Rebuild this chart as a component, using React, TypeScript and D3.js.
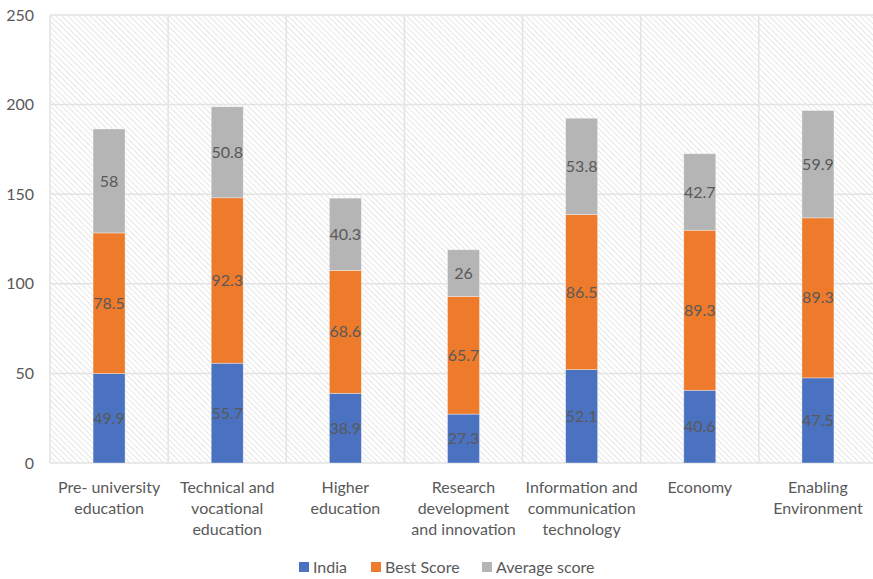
import React from "react";
import * as d3 from "d3";

const categories = [
  ["Pre- university", "education"],
  ["Technical and", "vocational", "education"],
  ["Higher", "education"],
  ["Research", "development", "and innovation"],
  ["Information and", "communication", "technology"],
  ["Economy"],
  ["Enabling", "Environment"],
];
const india = [49.9, 55.7, 38.9, 27.3, 52.1, 40.6, 47.5];
const bestScore = [78.5, 92.3, 68.6, 65.7, 86.5, 89.3, 89.3];
const averageScore = [58, 50.8, 40.3, 26, 53.8, 42.7, 59.9];
const seriesNames = ["India", "Best Score", "Average score"];
const colors = ["#4A72C0", "#EE7B2C", "#B5B5B5"];
const yTicks = [0, 50, 100, 150, 200, 250];

export default function App() {
  const W = 873, H = 579;
  const left = 50, right = 877, top = 15, bottom = 463;
  const x = d3.scaleBand<number>().domain(d3.range(categories.length)).range([left, right]).paddingInner(0).paddingOuter(0);
  const y = d3.scaleLinear().domain([0, 250]).range([bottom, top]);
  const bw = 32;
  const series = [india, bestScore, averageScore];
  const font = "Lato, 'Open Sans', sans-serif";
  const txt = "#595959";
  const legendX = [299, 371, 482];
  return (
    <svg width={W} height={H} style={{ position: "absolute", left: 0, top: 0 }} fontFamily={font}>
      <defs>
        <pattern id="hatch" width="4" height="4" patternUnits="userSpaceOnUse" patternTransform="rotate(-45)">
          <rect width="4" height="4" fill="#ffffff" />
          <line x1="0" y1="0" x2="0" y2="4" stroke="#e4e4e4" strokeWidth="1.8" />
        </pattern>
      </defs>
      <rect x={left} y={top} width={right - left} height={bottom - top} fill="url(#hatch)" />
      {yTicks.map((t) => (
        <g key={t}>
          <line x1={left} x2={right} y1={y(t)} y2={y(t)} stroke="#e3e3e3" strokeWidth={1.5} />
          <text x={34} y={y(t)} dy="0.35em" textAnchor="end" fontSize={16} fill={txt}>{t}</text>
        </g>
      ))}
      {d3.range(categories.length + 1).map((i) => {
        const xx = left + i * x.bandwidth();
        return <line key={i} x1={xx} x2={xx} y1={top} y2={bottom} stroke="#e3e3e3" strokeWidth={1.5} />;
      })}
      {categories.map((c, i) => {
        const cx = (x(i) as number) + x.bandwidth() / 2;
        let acc = 0;
        return (
          <g key={i}>
            {series.map((s, k) => {
              const y0 = acc;
              const y1 = acc + s[i];
              acc = y1;
              return (
                <g key={k}>
                  <rect x={cx - bw / 2} y={y(y1)} width={bw} height={y(y0) - y(y1)} fill={colors[k]} stroke="#ffffff" strokeOpacity={0.5} strokeWidth={0.7} />
                  <text x={cx} y={(y(y0) + y(y1)) / 2} dy="0.35em" textAnchor="middle" fontSize={16} fill={txt}>{s[i]}</text>
                </g>
              );
            })}
            {c.map((line, j) => (
              <text key={j} x={cx} y={487 + j * 21} dy="0.35em" textAnchor="middle" fontSize={16} fill={txt}>{line}</text>
            ))}
          </g>
        );
      })}
      {seriesNames.map((n, k) => (
        <g key={n}>
          <rect x={legendX[k]} y={562} width={10} height={10} fill={colors[k]} />
          <text x={legendX[k] + 14} y={567} dy="0.35em" fontSize={16} fill={txt}>{n}</text>
        </g>
      ))}
    </svg>
  );
}
